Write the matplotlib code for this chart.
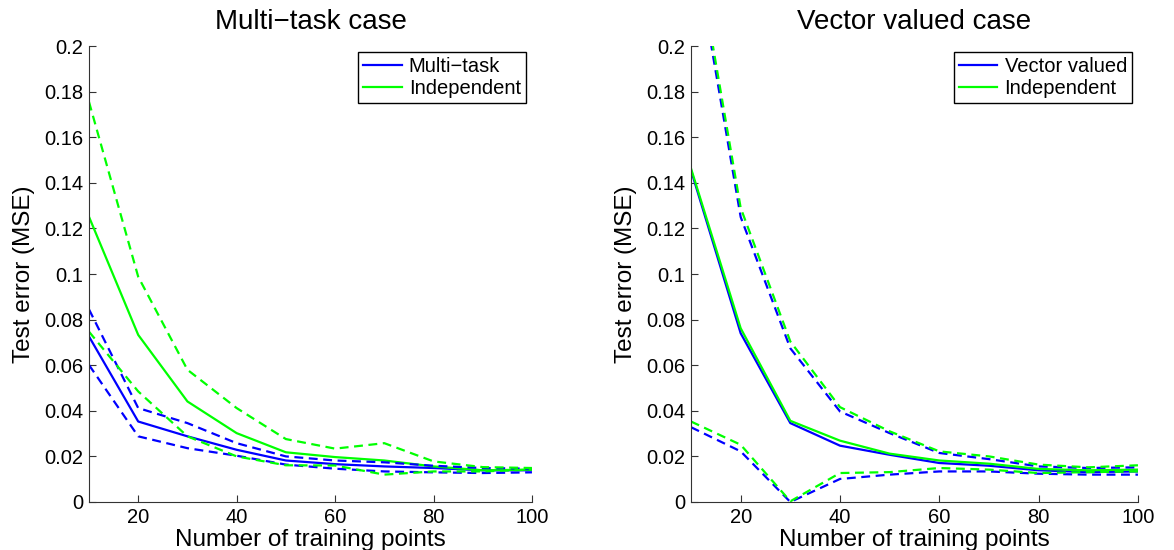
import matplotlib.pyplot as plt
import numpy as np

plt.rcParams['font.family'] = ['Liberation Sans', 'DejaVu Sans']

# training set sizes
n_train = [10, 20, 30, 40, 50, 60, 70, 80, 90, 100]

# multi-task case: mean and mean +/- std
mt_mean = [0.0726, 0.0353, 0.0288, 0.0229, 0.0182, 0.0166, 0.0156, 0.0149, 0.0139, 0.0139]
mt_hi = [0.0845, 0.0412, 0.0346, 0.0258, 0.0200, 0.0182, 0.0174, 0.0159, 0.0149, 0.0146]
mt_lo = [0.0601, 0.0288, 0.0236, 0.0203, 0.0164, 0.0146, 0.0134, 0.0130, 0.0127, 0.0130]
ind1_mean = [0.1251, 0.0733, 0.0441, 0.0302, 0.0218, 0.0197, 0.0182, 0.0156, 0.0139, 0.0142]
ind1_hi = [0.1755, 0.0988, 0.0580, 0.0412, 0.0276, 0.0234, 0.0258, 0.0178, 0.0153, 0.0149]
ind1_lo = [0.0747, 0.0485, 0.0288, 0.0200, 0.0161, 0.0160, 0.0120, 0.0134, 0.0134, 0.0142]

# vector valued case
vv_mean = [0.1455, 0.0740, 0.0346, 0.0247, 0.0207, 0.0171, 0.0159, 0.0139, 0.0131, 0.0134]
vv_hi = [0.2520, 0.1250, 0.0674, 0.0397, 0.0302, 0.0215, 0.0188, 0.0156, 0.0149, 0.0152]
vv_lo = [0.0328, 0.0222, 0.0000, 0.0101, 0.0120, 0.0134, 0.0134, 0.0124, 0.0120, 0.0120]
ind2_mean = [0.1463, 0.0762, 0.0356, 0.0269, 0.0212, 0.0182, 0.0168, 0.0145, 0.0139, 0.0142]
ind2_hi = [0.2560, 0.1290, 0.0704, 0.0416, 0.0310, 0.0222, 0.0200, 0.0164, 0.0152, 0.0161]
ind2_lo = [0.0353, 0.0251, 0.0003, 0.0127, 0.0131, 0.0149, 0.0142, 0.0127, 0.0131, 0.0134]

blue = '#0000ff'
green = '#00ff00'

fig = plt.figure(figsize=(11.74, 5.5), dpi=100)
ax1 = fig.add_axes([0.0758, 0.0873, 0.3773, 0.829])
ax2 = fig.add_axes([0.5886, 0.0873, 0.3807, 0.829])

panels = [
    (ax1, 'Multi\u2212task case', 'Multi\u2212task', mt_mean, mt_hi, mt_lo, ind1_mean, ind1_hi, ind1_lo),
    (ax2, 'Vector valued case', 'Vector valued', vv_mean, vv_hi, vv_lo, ind2_mean, ind2_hi, ind2_lo),
]

for ax, title, name, m, hi, lo, im, ihi, ilo in panels:
    lw = 1.6
    dash = (0, (4, 2.5))
    ax.plot(n_train, m, color=blue, lw=lw, label=name)
    ax.plot(n_train, im, color=green, lw=lw, label='Independent')
    ax.plot(n_train, hi, color=blue, lw=lw, ls=dash)
    ax.plot(n_train, lo, color=blue, lw=lw, ls=dash)
    ax.plot(n_train, ihi, color=green, lw=lw, ls=dash)
    ax.plot(n_train, ilo, color=green, lw=lw, ls=dash)

    ax.set_xlim(10, 100)
    ax.set_ylim(0, 0.2)
    ax.set_xticks([20, 40, 60, 80, 100])
    yt = np.arange(0, 0.201, 0.02)
    ax.set_yticks(yt)
    ax.set_yticklabels(['%g' % round(v, 2) for v in yt])
    ax.tick_params(direction='in', length=5, width=0.8, color='#333333',
                   labelsize=14.5, pad=4)
    for s in ['top', 'right']:
        ax.spines[s].set_visible(False)
    for s in ['left', 'bottom']:
        ax.spines[s].set_color('#333333')
        ax.spines[s].set_linewidth(0.8)

    ax.set_title(title, fontsize=20, pad=12)
    ax.set_xlabel('Number of training points', fontsize=17.5, labelpad=2)
    ax.set_ylabel('Test error (MSE)', fontsize=17.5, labelpad=7)

    leg = ax.legend(loc='upper right', fontsize=14.5, fancybox=False,
                    edgecolor='black', framealpha=1, handlelength=1.9,
                    borderpad=0.25, labelspacing=0.15, handletextpad=0.35,
                    borderaxespad=0.3)
    leg.get_frame().set_linewidth(1.0)

fig.savefig('out.png', dpi=100)
